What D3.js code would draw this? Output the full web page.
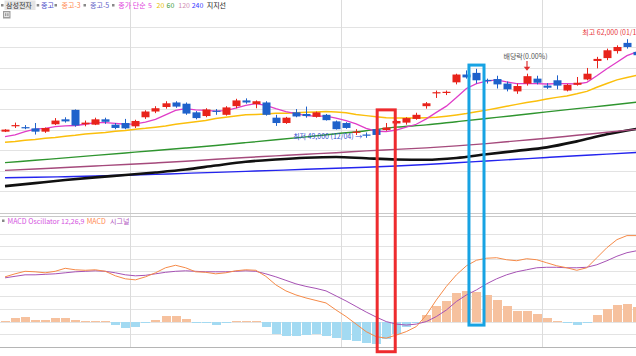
<!DOCTYPE html>
<html><head><meta charset="utf-8">
<script src="https://cdn.jsdelivr.net/npm/d3@7"></script>
<style>html,body{margin:0;padding:0;background:#fff;overflow:hidden}svg{display:block;font-family:"Noto Sans CJK KR","Noto Sans",sans-serif}</style>
</head><body><svg id="c" width="636" height="356"></svg>
<script>
// ---------------- data ----------------
const dates = ["2019-10-15","2019-10-16","2019-10-17","2019-10-18","2019-10-21","2019-10-22","2019-10-23","2019-10-24","2019-10-25","2019-10-28","2019-10-29","2019-10-30","2019-10-31",
"2019-11-01","2019-11-04","2019-11-05","2019-11-06","2019-11-07","2019-11-08","2019-11-11","2019-11-12","2019-11-13","2019-11-14","2019-11-15","2019-11-18","2019-11-19","2019-11-20","2019-11-21","2019-11-22","2019-11-25","2019-11-26","2019-11-27","2019-11-28","2019-11-29",
"2019-12-02","2019-12-03","2019-12-04","2019-12-05","2019-12-06","2019-12-09","2019-12-10","2019-12-11","2019-12-12","2019-12-13","2019-12-16","2019-12-17","2019-12-18","2019-12-19","2019-12-20","2019-12-23","2019-12-24","2019-12-26","2019-12-27","2019-12-30",
"2020-01-02","2020-01-03","2020-01-06","2020-01-07","2020-01-08","2020-01-09","2020-01-10","2020-01-13","2020-01-14","2020-01-15"];
const open = [49750,50500,50300,50150,49750,50650,51250,52400,50650,50600,51250,50600,50800,50400,51500,52200,52750,53300,53150,52100,51650,52300,51800,52850,53550,53100,53300,51450,50800,52100,51900,51550,51800,51000,50800,49650,49400,50050,49950,50750,50850,51300,52850,54450,54500,55750,56700,56900,56050,56150,55600,54650,55600,56200,55350,56000,54750,55450,56100,58350,58700,59550,60550,59450];
const high = [50050,50850,50550,50800,50250,51400,51500,52450,51100,51450,51450,50800,51300,51200,52350,52850,53450,53450,53300,52250,52600,52500,52850,53750,53800,53550,53450,51800,51550,52500,52800,52200,51900,51100,50900,50050,49650,50200,50800,51150,51500,52050,53350,54750,54750,56800,57200,57400,56200,56550,55850,55600,56800,56550,55650,56600,55550,56400,57500,58850,59850,60250,61000,59650];
const low = [49700,50200,50050,49400,49600,50550,50850,50350,50400,50550,50700,50050,50050,50200,51300,52000,52550,52650,51800,51250,51500,51800,51700,52600,53150,52600,51700,50450,50700,51500,51450,51450,51100,50000,50100,49350,49000,49250,49850,50600,50600,51200,52550,53850,54200,55500,56200,55600,55600,55000,54650,54350,55350,55500,54950,54900,54650,55350,56000,57450,58450,59250,59850,58900];
const close = [50000,50550,50250,49750,50200,51100,51000,50500,50850,51250,50950,50200,50150,51050,52200,52600,53200,52800,51950,51400,52450,52200,52700,53550,53300,53450,51800,50800,51450,51600,51650,52100,51150,50050,50200,49750,49350,49350,50250,51050,51400,51800,53200,54550,54600,56700,56350,56000,55900,55500,54900,55300,56500,55700,55100,55350,55450,55700,56800,58600,59650,60050,60050,59050];

const ma5 = [49150,49350,49750,50050,50150,50350,50450,50500,50650,50850,50850,50750,50650,50700,50900,51250,51800,52350,52550,52400,52350,52250,52300,52600,52950,53150,52950,52550,52200,51950,51700,51650,51650,51400,51100,50700,50150,49800,49750,49950,50300,50650,51300,52100,52850,53900,55000,55600,55900,56050,55800,55600,55600,55600,55550,55600,55600,55550,55750,56550,57400,58200,59000,59450];
const ma20 = [48450,48550,48700,48800,48950,49050,49200,49300,49450,49550,49650,49800,49900,50050,50150,50300,50450,50650,50800,50950,51100,51350,51500,51650,51800,51850,51900,52000,52000,52050,52100,52150,52200,52150,52050,51850,51700,51550,51450,51400,51400,51420,51450,51490,51630,51790,51960,52160,52370,52610,52830,53070,53290,53490,53710,53920,54100,54350,54650,55150,55600,56050,56350,56600];
// slow lines read every 3rd session (sessions 0,3,6,...,63)
const slowSessions = [0,3,6,9,12,15,18,21,24,27,30,33,36,39,42,45,48,51,54,57,60,63];
const ma60 = [45980,46270,46560,46860,47160,47460,47760,48070,48410,48760,49120,49490,49860,50300,50570,50960,51350,51740,52150,52550,52940,53350];
const ma120 = [45040,45200,45390,45570,45750,45940,46150,46390,46610,46800,47000,47190,47410,47590,47780,48020,48300,48630,48940,49310,49670,50040];
const ma240 = [44140,44200,44270,44350,44440,44550,44680,44800,44920,45040,45170,45290,45420,45570,45750,45960,46180,46390,46610,46820,47020,47220];
const support = [43120,43490,43860,44190,44470,44780,45140,45630,46090,46370,46580,46670,46510,46370,46330,46550,47000,47410,47840,48570,49430,50100];

const macd = [890,950,1000,990,970,1000,1060,1030,1020,1030,1000,910,850,830,890,970,1070,1120,1070,990,980,950,970,1010,1030,1020,900,730,610,530,470,420,370,230,100,-50,-200,-300,-330,-270,-200,-100,130,430,700,930,1110,1220,1260,1270,1230,1210,1250,1230,1170,1110,1070,1020,1070,1270,1470,1630,1710,1710];
const signal = [870,900,930,930,940,950,970,990,1000,1010,1000,970,930,910,920,950,980,1000,1010,1000,990,990,990,1000,1010,1000,950,890,820,750,700,660,610,510,410,300,190,90,0,-50,-70,-50,0,100,230,400,530,630,750,850,930,990,1030,1070,1080,1080,1070,1070,1080,1130,1210,1300,1370,1410];
const osc = [15,80,95,35,35,65,75,35,20,20,5,-65,-135,-105,-35,35,115,115,45,-35,-35,-60,-35,15,20,20,-100,-245,-285,-280,-265,-245,-280,-335,-365,-380,-435,-445,-355,-245,-100,-35,135,300,400,565,615,580,535,435,300,220,220,155,65,15,-35,-65,-20,135,245,335,355,285];

const priceGrid = [42500,45000,47500,50000,52500,55000,57500,60000,62500];
const macdGrid = [-250,0,250,500,750,1000,1250,1500,1750];

const legendTop = [
  {t:"종고", c:"#4b4bc8", x:41, sq:36.7},
  {t:"종고-3", c:"#ff8a4f", x:61.5, sq:54.5},
  {t:"종고-5", c:"#6262c8", x:90, sq:83.5},
  {t:"종가 단순", c:"#e040dc", x:118.3, sq:112},
  {t:"5", c:"#e040dc", x:148},
  {t:"20", c:"#e8bd00", x:156.5},
  {t:"60", c:"#3a9a3a", x:166.5},
  {t:"120", c:"#d08cb4", x:178.3},
  {t:"240", c:"#3a3aff", x:191.7},
  {t:"지지선", c:"#222", x:206.7}
];
const legendMacd = [
  {t:"MACD Oscillator 12,26,9", c:"#d452e0", x:7.5},
  {t:"MACD", c:"#ff8a4f", x:86.7},
  {t:"시그널", c:"#b055c0", x:110}
];

// ---------------- scales ----------------
const W = 636, H = 356;
const svg = d3.select('#c');
const x = d3.scaleBand().domain(dates).range([0, 642]);
const bw = x.bandwidth();
const xc = d => x(d) + bw / 2;
const yP = d3.scaleLinear().domain([50000, 60000]).range([129.6, 47.4]);
const yM = d3.scaleLinear().domain([-500, 1750]).range([346.7, 233.6]);
const crisp = v => Math.round(v) + 0.5;

const defs = svg.append('defs');
defs.append('clipPath').attr('id', 'clipTop').append('rect').attr('x', 0).attr('y', 0).attr('width', W).attr('height', 212.5);
defs.append('clipPath').attr('id', 'clipBot').append('rect').attr('x', 0).attr('y', 217).attr('width', W).attr('height', 129.5);

// ---------------- grid ----------------
const grid = svg.append('g').attr('shape-rendering', 'crispEdges');
grid.selectAll('.pg').data(priceGrid).join('line')
  .attr('x1', 0).attr('x2', W).attr('y1', d => crisp(yP(d))).attr('y2', d => crisp(yP(d)))
  .attr('stroke', '#e3e3e3');
grid.selectAll('.mg').data(macdGrid).join('line')
  .attr('x1', 0).attr('x2', W).attr('y1', d => crisp(yM(d))).attr('y2', d => crisp(yM(d)))
  .attr('stroke', '#e3e3e3');
const monthStarts = dates.filter((d, i) => i > 0 && d.slice(0, 7) !== dates[i - 1].slice(0, 7));
grid.selectAll('.vg').data(monthStarts).join('line')
  .attr('x1', d => crisp(x(d))).attr('x2', d => crisp(x(d))).attr('y1', 0).attr('y2', yM(-500))
  .attr('stroke', '#dcdcdc');
grid.append('line').attr('x1', 0).attr('x2', W).attr('y1', 213.5).attr('y2', 213.5).attr('stroke', '#c9c9c9');
grid.append('line').attr('x1', 0).attr('x2', W).attr('y1', 216.5).attr('y2', 216.5).attr('stroke', '#c9c9c9');
grid.append('line').attr('x1', 0).attr('x2', W).attr('y1', crisp(yM(-500))).attr('y2', crisp(yM(-500))).attr('stroke', '#b5b5b5');

// ---------------- price panel ----------------
const topG = svg.append('g').attr('clip-path', 'url(#clipTop)');
const slowLine = arr => d3.line().curve(d3.curveMonotoneX)
  .x((v, j) => xc(dates[slowSessions[j]])).y(v => yP(v))(arr);
const fastLine = arr => d3.line().x((v, i) => xc(dates[i])).y(v => yP(v))(arr);

topG.append('path').attr('d', slowLine(ma240)).attr('fill', 'none').attr('stroke', '#2424ee').attr('stroke-width', 1.4);
topG.append('path').attr('d', slowLine(support)).attr('fill', 'none').attr('stroke', '#111').attr('stroke-width', 2.6);
topG.append('path').attr('d', slowLine(ma120)).attr('fill', 'none').attr('stroke', '#a54a7c').attr('stroke-width', 1.4);
topG.append('path').attr('d', slowLine(ma60)).attr('fill', 'none').attr('stroke', '#2f952f').attr('stroke-width', 1.4);
topG.append('path').attr('d', fastLine(ma20)).attr('fill', 'none').attr('stroke', '#fbbf0c').attr('stroke-width', 1.5);
topG.append('path').attr('d', fastLine(ma5)).attr('fill', 'none').attr('stroke', '#e03ec8').attr('stroke-width', 1.3);

const upC = '#e8231b', dnC = '#1f62cb';
const candles = topG.append('g').selectAll('g').data(dates).join('g');
candles.append('line')
  .attr('x1', (d) => crisp(xc(d))).attr('x2', d => crisp(xc(d)))
  .attr('y1', (d, i) => yP(high[i])).attr('y2', (d, i) => yP(low[i]))
  .attr('stroke', (d, i) => close[i] >= open[i] ? upC : dnC).attr('stroke-width', 1);
candles.append('rect')
  .attr('x', d => Math.round(xc(d)) - 3.5)
  .attr('width', 8)
  .attr('y', (d, i) => yP(Math.max(open[i], close[i])))
  .attr('height', (d, i) => Math.max(1.2, Math.abs(yP(open[i]) - yP(close[i]))))
  .attr('fill', (d, i) => close[i] >= open[i] ? upC : dnC);

// annotations
const lowIdx = dates.indexOf('2019-12-04');
svg.append('text').attr('x', xc(dates[lowIdx]) - 4).attr('y', yP(low[lowIdx]) + 1.6)
  .attr('text-anchor', 'end').attr('font-size', 7).attr('fill', '#2f4fd0')
  .text('최저 49,000 (12/04) →');
const divIdx = dates.indexOf('2019-12-27');
const dx = crisp(xc(dates[divIdx])) - 0.5, dTip = yP(high[divIdx]) - 3;
svg.append('text').attr('x', dx - 1.5).attr('y', dTip - 11.7).attr('text-anchor', 'middle')
  .attr('font-size', 7).attr('fill', '#555').text('배당락(0.00%)');
svg.append('line').attr('x1', dx).attr('x2', dx).attr('y1', dTip - 9.7).attr('y2', dTip - 3.5).attr('stroke', '#e03030').attr('stroke-width', 1.2);
svg.append('path').attr('d', `M${dx - 3.3},${dTip - 4}L${dx + 3.3},${dTip - 4}L${dx},${dTip}Z`).attr('fill', '#e03030');
svg.append('text').attr('x', 582.3).attr('y', yP(62000) + 4).attr('font-size', 7).attr('fill', '#e8383d')
  .text('최고 62,000 (01/17)');

// ---------------- MACD panel ----------------
const bot = svg.append('g').attr('clip-path', 'url(#clipBot)');
bot.append('g').attr('shape-rendering', 'crispEdges').selectAll('rect').data(dates).join('rect')
  .attr('x', d => Math.round(x(d)) + 0.5)
  .attr('width', bw - 1)
  .attr('y', (d, i) => yM(Math.max(0, osc[i])))
  .attr('height', (d, i) => Math.abs(yM(osc[i]) - yM(0)))
  .attr('fill', (d, i) => osc[i] >= 0 ? '#f6c19e' : '#a3daf2');
const mline = arr => d3.line().x((v, i) => xc(dates[i])).y(v => yM(v))(arr);
bot.append('path').attr('d', mline(signal)).attr('fill', 'none').attr('stroke', '#a652b4').attr('stroke-width', 1);
bot.append('path').attr('d', mline(macd)).attr('fill', 'none').attr('stroke', '#f58a48').attr('stroke-width', 1);

// highlight boxes
const boxes = [
  {d: '2019-12-06', half: 0.9, top: 52400, bottom: -600, c: '#ee2b2e'},
  {d: '2019-12-19', half: 0.75, top: 57850, bottom: -70, c: '#17a3e3'}
];
svg.selectAll('.hb').data(boxes).join('rect')
  .attr('x', b => xc(b.d) - b.half * bw).attr('width', b => 2 * b.half * bw)
  .attr('y', b => yP(b.top)).attr('height', b => yM(b.bottom) - yP(b.top))
  .attr('fill', 'none').attr('stroke', b => b.c).attr('stroke-width', 3);

// ---------------- legends ----------------
const lg = svg.append('g').attr('font-size', 7);
lg.append('rect').attr('x', 1).attr('y', 4).attr('width', 2.5).attr('height', 2.5).attr('fill', '#888');
lg.append('rect').attr('x', 4.5).attr('y', 0.5).attr('width', 31).attr('height', 9.5).attr('fill', '#e4e4e4');
lg.append('text').attr('x', 6).attr('y', 8.3).attr('fill', '#333').text('삼성전자');
legendTop.forEach(l => {
  if (l.sq !== undefined) lg.append('rect').attr('x', l.sq).attr('y', 4).attr('width', 2.5).attr('height', 2.5).attr('fill', '#888');
  lg.append('text').attr('x', l.x).attr('y', 8.3).attr('fill', l.c).text(l.t);
});
lg.append('rect').attr('x', 3).attr('y', 11).attr('width', 7.5).attr('height', 7.5).attr('fill', '#9c9c9c');
lg.append('rect').attr('x', 4.5).attr('y', 12.8).attr('width', 4.5).attr('height', 3.8).attr('fill', 'none').attr('stroke', '#fff').attr('stroke-width', 0.7);
lg.append('line').attr('x1', 6.75).attr('x2', 6.75).attr('y1', 12.8).attr('y2', 16.6).attr('stroke', '#fff').attr('stroke-width', 0.7);
lg.append('rect').attr('x', 2).attr('y', 219.5).attr('width', 2.5).attr('height', 2.5).attr('fill', '#888');
legendMacd.forEach(l => lg.append('text').attr('x', l.x).attr('y', 224).attr('fill', l.c).text(l.t));
</script></body></html>
